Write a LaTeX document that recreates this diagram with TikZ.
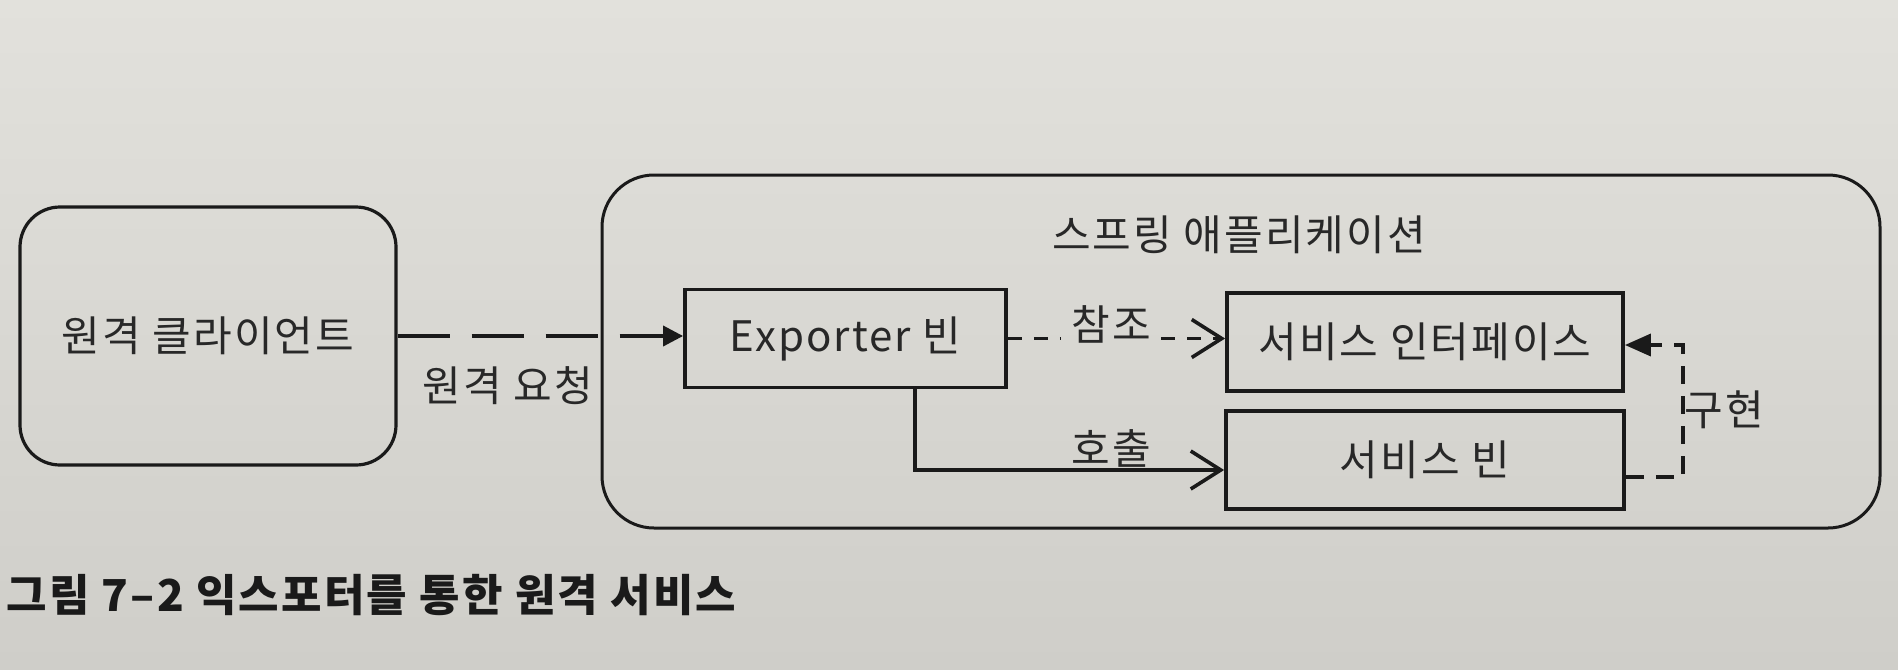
\documentclass[tikz,border=0pt]{standalone}
\usepackage{fontspec}
\setmainfont{Noto Sans CJK KR}
\newfontfamily\labelfont[LetterSpace=5]{Noto Sans CJK KR}
\newfontfamily\capfont[LetterSpace=5]{Noto Sans CJK KR}
\usetikzlibrary{arrows.meta}
\definecolor{paperlight}{RGB}{226,225,220}
\definecolor{paperdark}{RGB}{207,206,201}
\definecolor{ink}{RGB}{26,26,26}
\definecolor{textink}{RGB}{40,40,40}

\begin{document}
\begin{tikzpicture}[x=0.5pt,y=-0.5pt,
  lbl/.style={text=textink, font=\labelfont\fontsize{21}{25}\selectfont, inner sep=0pt},
  clientbox/.style={draw=ink, line width=1.6pt, rounded corners=20pt,
    minimum width=188pt, minimum height=129pt, text=textink,
    font=\labelfont\fontsize{21}{25}\selectfont},
  appbox/.style={draw=ink, line width=1.5pt, rounded corners=26pt,
    minimum width=639pt, minimum height=176.5pt},
  beanbox/.style={draw=ink, line width=1.9pt, minimum height=49pt,
    text=textink, font=\labelfont\fontsize{21}{25}\selectfont},
  wire/.style={draw=ink, line width=1.8pt},
  solidtip/.style={-{Triangle[length=10pt,width=10pt]}},
  barbtip/.style={-{Straight Barb[length=15pt,width=19pt]}},
  reqdash/.style={dash pattern=on 26pt off 11pt},
  refdash/.style={dash pattern=on 7pt off 6pt},
  impldash/.style={dash pattern=on 9pt off 6pt}
]
% paper
\useasboundingbox (0,0) rectangle (1898,669);
\shade[top color=paperlight, bottom color=paperdark] (0,0) rectangle (1898,669);

% client and the application container
\node[clientbox] (client) at (208,336) {원격 클라이언트};
\node[appbox] (app) at (1241,351.5) {};
\node[lbl] (apptitle) at (1239,235) {스프링 애플리케이션};

% beans
\node[beanbox, minimum width=160.5pt] (exp) at (845.5,338.5) {Exporter 빈};
\node[beanbox, minimum width=198pt] (iface) at (1425,342) {서비스 인터페이스};
\node[beanbox, minimum width=199pt] (svc) at (1425,460) {서비스 빈};

% remote request
\draw[wire, reqdash, solidtip] (client.east) -- (client.east -| exp.west);
\node[lbl] (reqlbl) at (508,386) {원격 요청};

% reference
\node[lbl, inner xsep=5pt] (reflbl) at (1111,324) {참조};
\draw[wire, refdash] (exp.east) -- (exp.east -| reflbl.west);
\draw[wire, refdash, barbtip] (exp.east -| reflbl.east) -- (exp.east -| iface.west);

% call
\coordinate (callbend) at (915,470);
\draw[wire, barbtip] (exp.south -| callbend) -- (callbend) -- (svc.west |- callbend);
\node[lbl] (calllbl) at (1111,448) {호출};

% implementation
\coordinate (implcorner) at (1683,477);
\coordinate (impltop) at (1683,345);
\draw[wire, impldash, -{Triangle[length=13pt,width=11pt]}]
  (svc.east |- implcorner) -- (implcorner) -- (impltop) -- (impltop -| iface.east);
\node[lbl] (impllbl) at (1724,410) {구현};

% caption
\node[font=\capfont\bfseries\fontsize{22}{26}\selectfont, text=ink, anchor=west, inner sep=0pt]
  (caption) at (6,595) {그림 7–2 익스포터를 통한 원격 서비스};
\end{tikzpicture}
\end{document}
